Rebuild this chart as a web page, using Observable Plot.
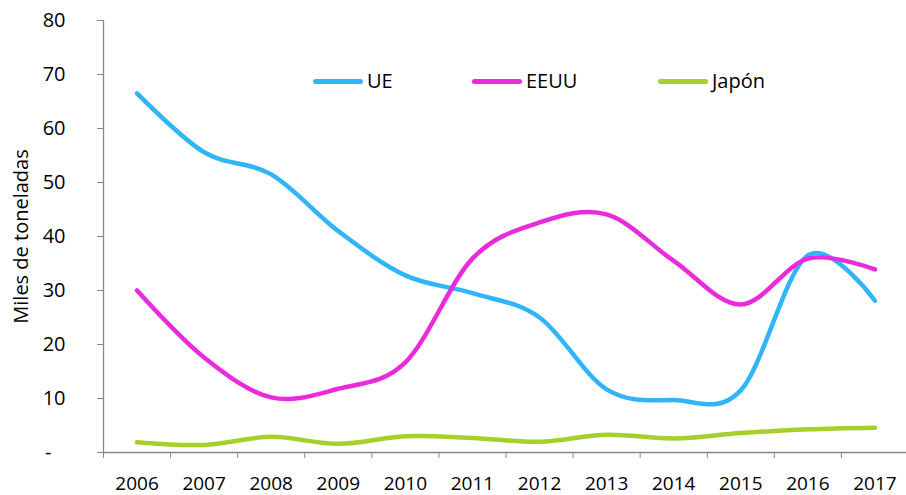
<!DOCTYPE html>
<html>
<head>
<meta charset="utf-8">
<script src="https://cdn.jsdelivr.net/npm/d3@7"></script>
<script src="https://cdn.jsdelivr.net/npm/@observablehq/plot@0.6"></script>
<style>
  body { margin: 0; background: white; }
  #wrap { position: relative; width: 906px; height: 495px; font-family: "Open Sans", sans-serif; }
  .leg { position: absolute; display: flex; align-items: center; font-size: 20px; color: #000; line-height: 1; }
  .sw { width: 50px; height: 5px; border-radius: 3px; margin-right: 4px; }
</style>
</head>
<body>
<div id="wrap"></div>
<script>
const years = [2006, 2007, 2008, 2009, 2010, 2011, 2012, 2013, 2014, 2015, 2016, 2017];
const ue    = [66.5, 55.6, 51.5, 41.0, 32.8, 29.5, 25.0, 11.7, 9.7, 11.5, 36.5, 28.1];
const eeuu  = [30.0, 17.6, 10.2, 11.8, 16.7, 35.9, 42.6, 44.1, 35.5, 27.4, 35.9, 33.9];
const japon = [1.9, 1.4, 2.9, 1.6, 3.0, 2.7, 2.0, 3.3, 2.6, 3.6, 4.3, 4.6];
const seriesNames = ["UE", "EEUU", "Japón"];
const seriesColors = ["#30B6F8", "#E92BDB", "#A6CF2A"];
const yTicks = [10, 20, 30, 40, 50, 60, 70, 80];
const yLabel = "Miles de toneladas";

const seriesValues = [ue, eeuu, japon];
const table = [];
seriesNames.forEach((s, i) => years.forEach((yr, j) => table.push({series: s, year: yr, value: seriesValues[i][j]})));
const boundaries = years.map(y => y - 0.5).concat([years[years.length - 1] + 0.5]);

const axisGray = "#898989";

const chart = Plot.plot({
  width: 906,
  height: 495,
  marginLeft: 103,
  marginRight: 0,
  marginTop: 20,
  marginBottom: 43,
  x: {domain: [boundaries[0], boundaries[boundaries.length - 1]], range: [103, 908]},
  y: {domain: [0, 80]},
  color: {domain: seriesNames, range: seriesColors},
  style: {fontFamily: "Open Sans", fontSize: "20px", color: "#000", background: "white", overflow: "visible"},
  marks: [
    Plot.axisX({ticks: boundaries, tickFormat: () => "", tickSize: 6, stroke: axisGray, label: null}),
    Plot.axisX({ticks: years, tickFormat: d => String(d), tickSize: 0, tickPadding: 24, fontSize: 19, label: null}),
    Plot.axisY({ticks: yTicks, tickSize: 6, tickPadding: 32, tickFormat: d => String(d), stroke: axisGray,
      label: yLabel, labelAnchor: "center", labelArrow: "none", labelOffset: 90}),
    Plot.axisY({ticks: [0], tickSize: 6, tickPadding: 46, tickFormat: () => "-", stroke: axisGray, label: null}),
    Plot.ruleY([0], {stroke: axisGray, strokeWidth: 1.3}),
    Plot.ruleX([boundaries[0]], {stroke: axisGray, strokeWidth: 1.3}),
    Plot.line(table, {x: "year", y: "value", z: "series", stroke: "series", strokeWidth: 4.5,
      curve: "cardinal", tension: 0, strokeLinecap: "round", strokeLinejoin: "round"})
  ]
});

const wrap = document.getElementById("wrap");
wrap.appendChild(chart);
const legendLeft = [313, 472, 658];
seriesNames.forEach((s, i) => {
  const item = document.createElement("div");
  item.className = "leg";
  item.style.left = legendLeft[i] + "px";
  item.style.top = "71px";
  const sw = document.createElement("div");
  sw.className = "sw";
  sw.style.background = seriesColors[i];
  const tx = document.createElement("span");
  tx.textContent = s;
  item.appendChild(sw);
  item.appendChild(tx);
  wrap.appendChild(item);
});
</script>
</body>
</html>
